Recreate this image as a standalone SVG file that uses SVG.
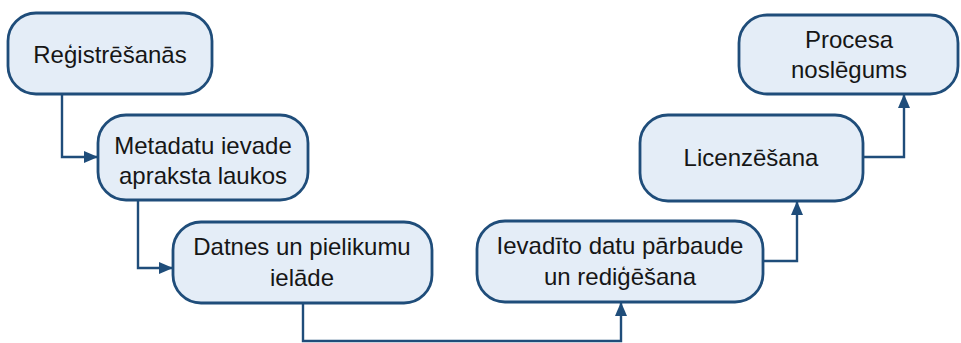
<svg xmlns="http://www.w3.org/2000/svg" width="961" height="343" viewBox="0 0 961 343">
<style>
.box{fill:#e4edf7;stroke:#1f4d7a;stroke-width:2.8}
.lbl{font-family:"Liberation Sans",Arial,sans-serif;font-size:24px;fill:#161616;text-anchor:middle}
.con{fill:none;stroke:#1f4d7a;stroke-width:2.4}
</style>
<defs>
<marker id="ah" markerWidth="14" markerHeight="12" refX="13" refY="6" orient="auto" markerUnits="userSpaceOnUse">
<path d="M0,0 L14,6 L0,12 Z" fill="#1f4d7a"/>
</marker>
</defs>
<rect width="961" height="343" fill="#ffffff"/>
<g id="connectors">
<path class="con" d="M62,94 V157 H97" marker-end="url(#ah)"/>
<path class="con" d="M138,200 V268 H172" marker-end="url(#ah)"/>
<path class="con" d="M303,303 V341 H621 V303" marker-end="url(#ah)"/>
<path class="con" d="M763,261 H797 V202" marker-end="url(#ah)"/>
<path class="con" d="M863,157 H904 V95" marker-end="url(#ah)"/>
</g>
<g id="n1">
<rect class="box" x="8" y="13" width="204" height="81" rx="28"/>
<text class="lbl" x="110" y="63">Reģistrēšanās</text>
</g>
<g id="n2">
<rect class="box" x="98" y="115" width="210" height="85" rx="28"/>
<text class="lbl" x="203" y="154">Metadatu ievade</text>
<text class="lbl" x="203" y="184">apraksta laukos</text>
</g>
<g id="n3">
<rect class="box" x="173" y="222" width="259" height="81" rx="28"/>
<text class="lbl" x="302" y="255">Datnes un pielikumu</text>
<text class="lbl" x="302" y="286">ielāde</text>
</g>
<g id="n4">
<rect class="box" x="477" y="221" width="286" height="81" rx="28"/>
<text class="lbl" x="620" y="254">Ievadīto datu pārbaude</text>
<text class="lbl" x="620" y="285">un rediģēšana</text>
</g>
<g id="n5">
<rect class="box" x="640" y="115" width="223" height="86" rx="28"/>
<text class="lbl" x="751" y="166">Licenzēšana</text>
</g>
<g id="n6">
<rect class="box" x="739" y="15" width="219" height="79" rx="28"/>
<text class="lbl" x="849" y="48">Procesa</text>
<text class="lbl" x="849" y="78">noslēgums</text>
</g>
</svg>
